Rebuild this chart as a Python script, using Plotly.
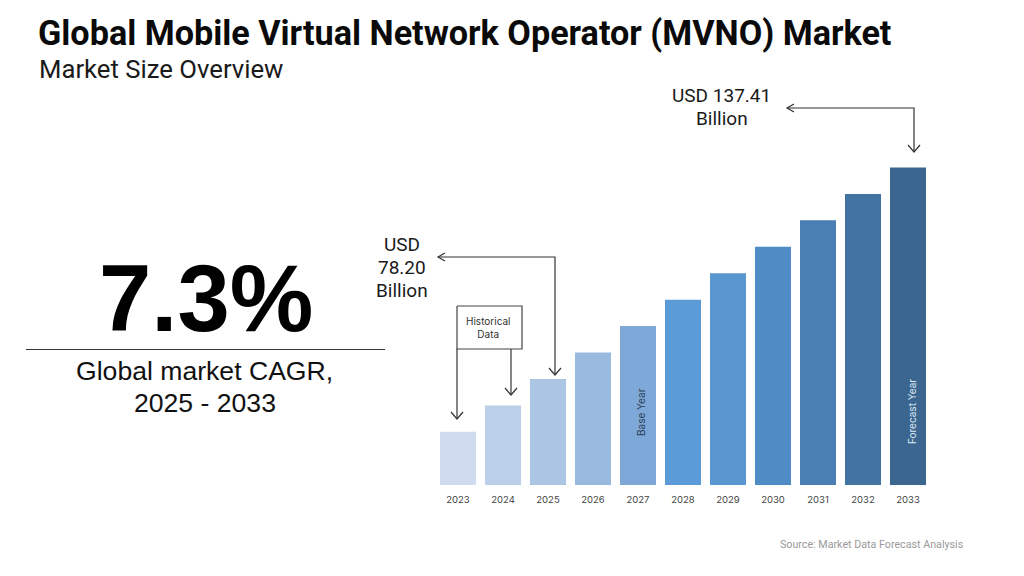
import plotly.graph_objects as go

W, H = 1024, 576

# =========================
# DATA
# =========================
years = ['2023', '2024', '2025', '2026', '2027', '2028', '2029', '2030', '2031', '2032', '2033']
market_size = [63.4, 70.8, 78.20, 85.6, 93.0, 100.4, 107.8, 115.2, 122.6, 130.0, 137.41]
bar_colors = ['#cfdcef', '#bccfe8', '#adc5e5', '#98badf', '#7da8d8', '#5b9bd8',
              '#5a96cf', '#4f8bc4', '#4a7fb3', '#4274a3', '#3a6690']


def px(x):
    return x / W


def py(y):
    return 1 - y / H


def label(x, y, text, size, color='#1a1a1a', font='Roboto', bold=False, angle=0, anchor='center'):
    return dict(x=px(x), y=py(y), xref='paper', yref='paper', text=text, showarrow=False,
                xanchor=anchor, yanchor='middle', textangle=angle,
                font=dict(family=font, size=size, color=color, weight='bold' if bold else 'normal'))


def line(path, color='#333333', width=1.2):
    # path given in page pixels
    d = 'M' + ' L'.join(f'{px(x):.5f},{py(y):.5f}' for x, y in path)
    return dict(type='path', xref='paper', yref='paper', path=d, line=dict(color=color, width=width))


fig = go.Figure(go.Bar(x=years, y=market_size, marker_color=bar_colors, marker_line_width=0))

annotations = [
    label(36, 33, 'Global Mobile Virtual Network Operator (MVNO) Market', 34.2, '#0a0a0a', bold=True, anchor='left'),
    label(37, 69, 'Market Size Overview', 25.7, anchor='left'),
    label(206, 298, '7.3%', 94, '#000000', 'Liberation Sans', bold=True),
    label(204.5, 371, 'Global market CAGR,', 26.6, '#111111', 'Liberation Sans'),
    label(204.5, 403, '2025 - 2033', 26.6, '#111111', 'Liberation Sans'),
    label(401.5, 244, 'USD', 19),
    label(401.5, 267, '78.20', 19),
    label(401.5, 290, 'Billion', 19),
    label(721, 95, 'USD 137.41', 19),
    label(722, 118, 'Billion', 19),
    label(488.5, 327.5, 'Historical<br>Data', 10, '#333333', 'Inter'),
    label(641, 412, 'Base Year', 10, '#2b3f55', 'Inter', angle=-90),
    label(912, 412, 'Forecast Year', 10, '#dfe8f2', 'Inter', angle=-90),
    label(778, 544, 'Source: Market Data Forecast Analysis', 10.7, '#9a9a9a', anchor='left'),
]

shapes = [
    line([(26, 349.5), (385, 349.5)], '#333333', 1),
    # historical data box
    line([(457, 306), (522, 306), (522, 349), (457, 349), (457, 306)], '#444444'),
    line([(457, 349), (457, 419)]),
    line([(451, 412), (457, 419), (463, 412)]),
    line([(511, 349), (511, 395)]),
    line([(505, 388), (511, 395), (517, 388)]),
    # 78.20 callout
    line([(438, 257), (555, 257), (555, 375)]),
    line([(445, 253), (438, 257), (445, 261)]),
    line([(549, 368), (555, 375), (561, 368)]),
    # 137.41 callout
    line([(787, 108), (914, 108), (914, 152)]),
    line([(794, 104), (787, 108), (794, 112)]),
    line([(908, 145), (914, 152), (920, 145)]),
]

fig.update_layout(
    width=W,
    height=H,
    margin=dict(l=0, r=0, t=0, b=0),
    paper_bgcolor='white',
    plot_bgcolor='white',
    showlegend=False,
    bargap=0.2,
    annotations=annotations,
    shapes=shapes,
    xaxis=dict(domain=[px(435.5), px(930.5)], showgrid=False, showline=False, ticks='',
               ticklabelstandoff=7,
               tickfont=dict(family='Inter', size=9.5, color='#444444')),
    yaxis=dict(domain=[py(485), py(100)], range=[48.53, 156.28], visible=False),
)

# the page's default body margin would push everything 8px off
fig.write_html("out.html", config={'displayModeBar': False},
               post_script="document.body.style.margin='0';")
